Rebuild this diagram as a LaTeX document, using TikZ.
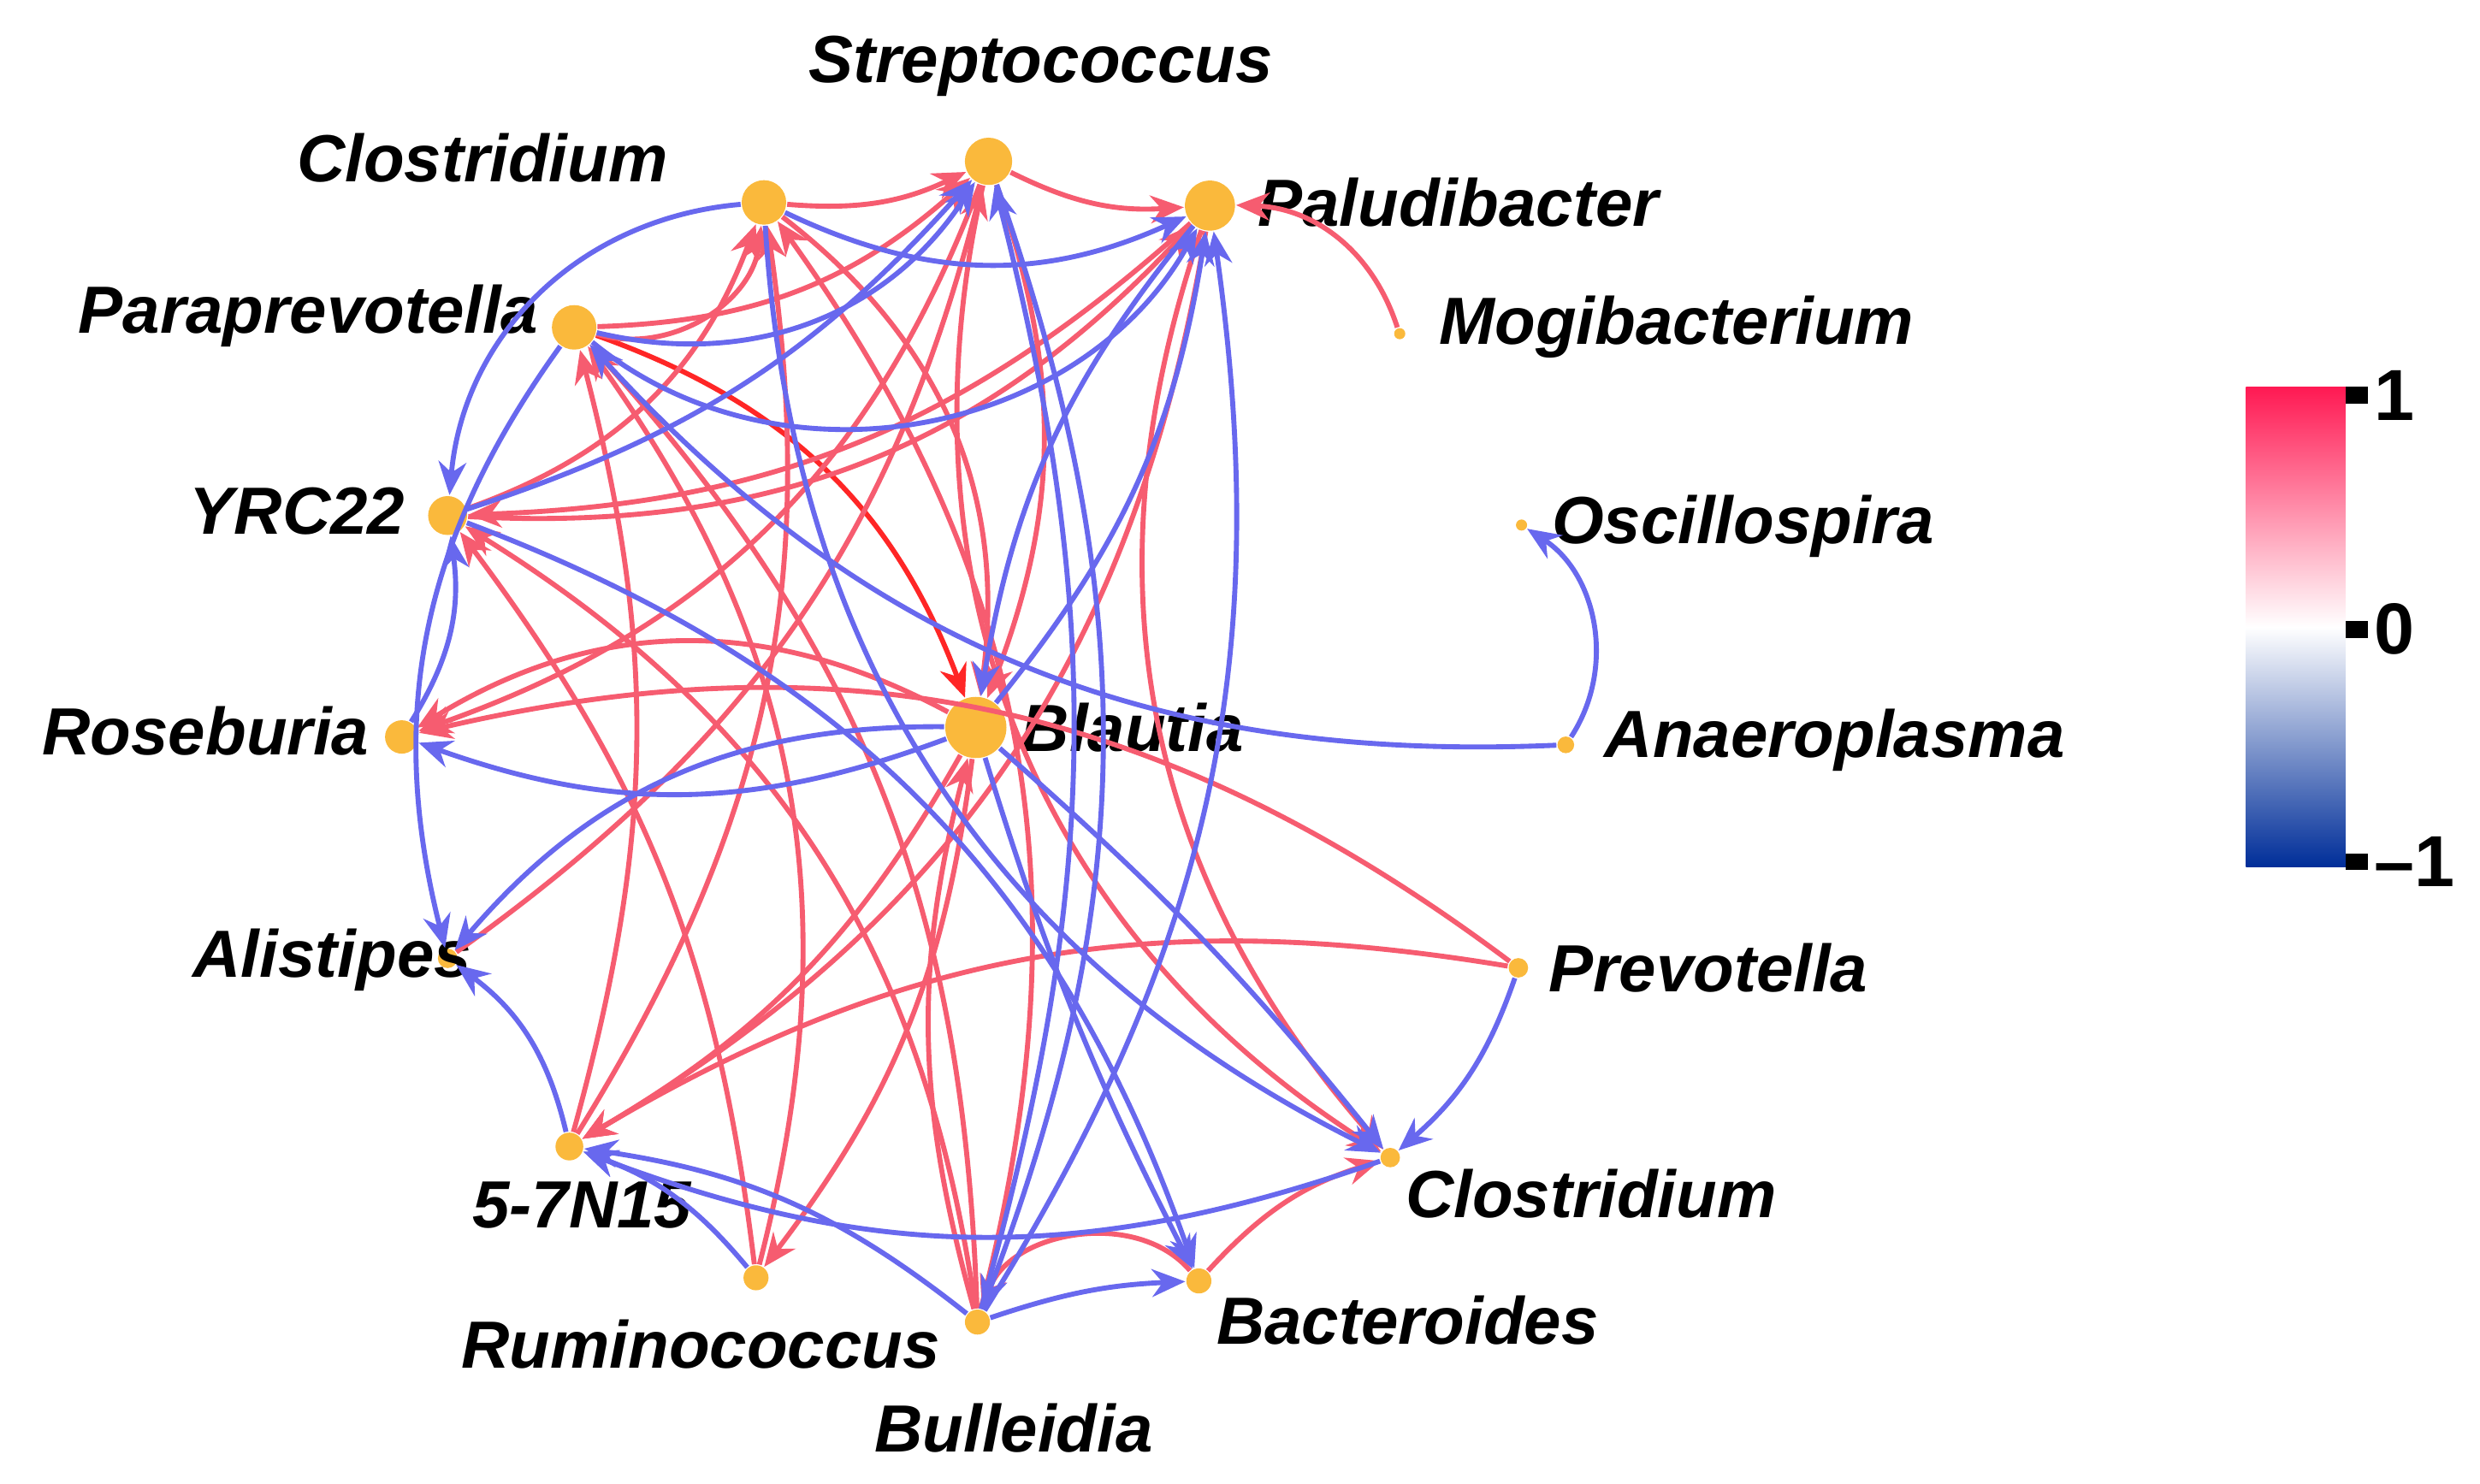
\documentclass[tikz,border=0pt]{standalone}
\usepackage{fontspec}
\setmainfont{Liberation Sans}
\usetikzlibrary{arrows.meta}
\definecolor{nred}{RGB}{246,92,112}
\definecolor{nblue}{RGB}{104,104,238}
\definecolor{nodey}{RGB}{250,185,60}
\begin{document}
\begin{tikzpicture}[x=0.01cm,y=-0.01cm,
  v/.style={circle,fill=nodey,inner sep=0pt,minimum size=#1},
  lab/.style={font=\fontsize{12}{14}\selectfont\bfseries\itshape},
  r/.style={draw=nred,line width=0.9pt,-{Stealth[length=6pt,width=5pt]}},
  b/.style={draw=nblue,line width=0.9pt,-{Stealth[length=6pt,width=5pt]}}]
\useasboundingbox (0,0) rectangle (1568,938);
\node[v=8.5pt] (st) at (625,102) {};
\node[v=8pt] (ct) at (483,128) {};
\node[v=9pt] (pa) at (765,130) {};
\node[v=8pt] (pp) at (363,207) {};
\node[v=2pt] (mo) at (885,211) {};
\node[v=7pt] (yr) at (283,326) {};
\node[v=2pt] (os) at (962,332) {};
\node[v=6pt] (ro) at (254,466) {};
\node[v=11pt] (bl) at (617,460) {};
\node[v=3pt] (an) at (990,471) {};
\node[v=3.5pt] (al) at (283,606) {};
\node[v=3.5pt] (pr) at (960,612) {};
\node[v=5pt] (n5) at (360,725) {};
\node[v=3.5pt] (cb) at (879,732) {};
\node[v=4.5pt] (ru) at (478,808) {};
\node[v=4.5pt] (ba) at (758,810) {};
\node[v=4.5pt] (bu) at (618,836) {};
\node[lab] (lst) at (658,42) {Streptococcus};
\node[lab] (lct) at (305,100) {Clostridium};
\node[lab] (lpa) at (922,128) {Paludibacter};
\node[lab] (lpp) at (195,200) {Paraprevotella};
\node[lab] (lmo) at (1060,207) {Mogibacterium};
\node[lab] (lyr) at (188,323) {YRC22};
\node[lab] (los) at (1102,333) {Oscillospira};
\node[lab] (lro) at (130,462) {Roseburia};
\node[lab] (lbl) at (716,460) {Blautia};
\node[lab] (lan) at (1160,468) {Anaeroplasma};
\node[lab] (lal) at (210,607) {Alistipes};
\node[lab] (lpr) at (1080,612) {Prevotella};
\node[lab] (ln5) at (368,762) {5-7N15};
\node[lab] (lcb) at (1006,755) {Clostridium};
\node[lab] (lru) at (443,850) {Ruminococcus};
\node[lab] (lba) at (890,835) {Bacteroides};
\node[lab] (lbu) at (641,903) {Bulleidia};
% red edges
\draw[r,draw=red!85!white] (pp) to[bend left=25] (bl);
\foreach \a/\c/\bb in {pp/st/-20,pp/ct/-50,yr/ct/-25,yr/pa/-25,st/ro/25,bl/ro/-30,bl/n5/15,bl/ru/15,
 st/pa/-15,ct/st/-15,st/cb/-35,pa/cb/-30,mo/pa/-35,pr/ro/-25,pr/n5/-20,ba/bu/-60,ba/cb/15,
 bu/pp/-20,ru/pp/-25,bu/ct/-25,n5/ct/-20,al/st/-20,st/bl/20,bu/bl/15,pa/n5/25,bu/yr/-25,ru/yr/-15,
 ct/bl/30,n5/pp/-15,pa/yr/20}
  \draw[r] (\a) to[bend left=\bb] (\c);
% blue edges
\foreach \a/\c/\bb in {pp/st/-35,pp/pa/-50,ct/yr/-40,pp/al/-25,ro/yr/-20,n5/al/-20,bl/ro/20,bl/al/-25,
 bl/cb/5,bl/ba/-5,bu/st/-15,bu/pa/-20,an/os/-45,an/pp/25,ct/cb/-30,cb/n5/20,bu/n5/-15,ru/n5/-15,
 pr/cb/15,bu/ba/8,yr/ba/25,bl/pa/-15,ct/pa/-25,yr/st/-15,st/bu/20,pa/bl/-15}
  \draw[b] (\a) to[bend left=\bb] (\c);
% colorbar
\shade[top color=red!75!magenta!90!white, bottom color=blue!70!cyan!60!black, middle color=white] (1420,245) rectangle (1483,548);
\foreach \yy/\t in {250/1,398/0,545/–1}{
  \draw[line width=3pt] (1483,\yy) -- (1497,\yy);
  \node[font=\fontsize{13}{14}\selectfont\bfseries,anchor=west,inner xsep=1pt] at (1497,\yy) {\t};}
\end{tikzpicture}
\end{document}
